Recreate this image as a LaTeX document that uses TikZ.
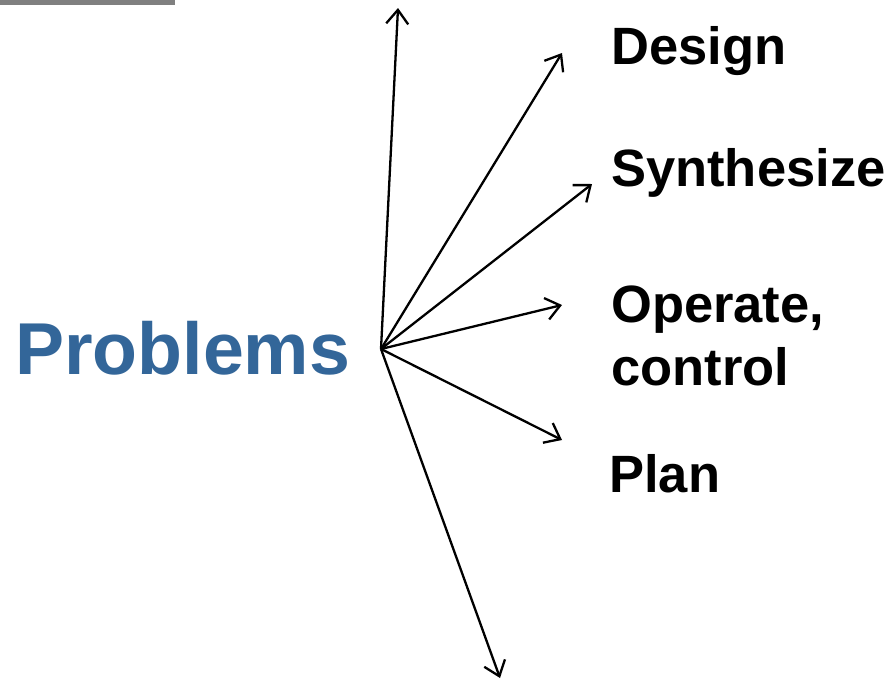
\documentclass[tikz,border=0pt]{standalone}
\usepackage{fontspec}
\setmainfont{Liberation Sans}
\usetikzlibrary{arrows.meta}
\definecolor{probblue}{HTML}{336699}
\definecolor{bargray}{HTML}{808080}
\begin{document}
\begin{tikzpicture}[x=1pt,y=-1pt,
  lbl/.style={anchor=base west,inner sep=0pt,font=\fontsize{52.5}{63}\selectfont\bfseries,align=left},
  arr/.style={-{Straight Barb[length=14pt,width=22pt,line width=2.3pt]},line width=2.3pt,black}]
\useasboundingbox (0,0) rectangle (893,680);
\fill[bargray] (0,0) rectangle (175,5);
\node[anchor=base west,inner sep=0pt,text=probblue,font=\fontsize{73.5}{80}\selectfont\bfseries] (prob) at (15,374) {Problems};
\coordinate (o) at (381,349);
\node[lbl] (design) at (611,64) {Design};
\node[lbl] (synth) at (611,186) {Synthesize};
\node[lbl] (oper) at (611,385) {Operate,\\control};
\node[lbl] (plan) at (609,492) {Plan};
\coordinate (t1) at (398,8);
\coordinate (t2) at (562,53);
\coordinate (t3) at (592,184);
\coordinate (t4) at (562,305);
\coordinate (t5) at (562,440);
\coordinate (t6) at (500,678);
\foreach \t in {t1,t2,t3,t4,t5,t6} \draw[arr] (o) -- (\t);
\end{tikzpicture}
\end{document}
